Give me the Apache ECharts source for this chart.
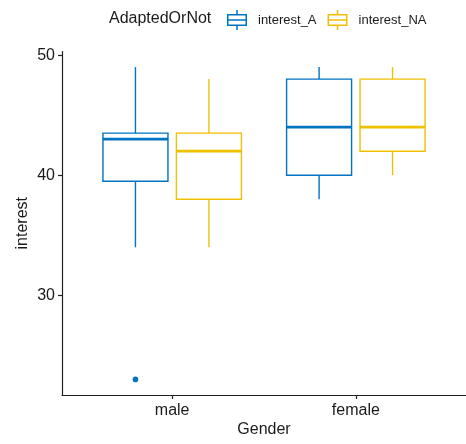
<!DOCTYPE html>
<html>
<head>
<meta charset="utf-8">
<script src="https://cdn.jsdelivr.net/npm/echarts@6/dist/echarts.min.js"></script>
<style>
html, body { margin: 0; padding: 0; background: #fff; }
#main { width: 466px; height: 444px; }
</style>
</head>
<body>
<div id="main"></div>
<script>
var genders = ['male', 'female']
var seriesNames = ['interest_A', 'interest_NA']
// [min, Q1, median, Q3, max] for each gender
var boxA = [[34, 39.5, 43, 43.5, 49], [38, 40, 44, 48, 49]]
var boxNA = [[34, 38, 42, 43.5, 48], [40, 42, 44, 48, 49]]
var outliersA = [['male', 23]]
var yTicks = [30, 40, 50]

var colors = ['#0073C2', '#EFC000']
var font = 'Liberation Sans, Arial, sans-serif'
var boxWidth = 0.354
var dodge = 0.2

var chart = echarts.init(document.getElementById('main'))

function toRows(boxes) {
    return boxes.map(function (b, i) { return [i + 1].concat(b) })
}

function boxRenderer(offset, color) {
    return function (params, api) {
        var x = api.value(0) + offset
        var half = api.size([boxWidth, 0])[0] / 2
        var lo = api.coord([x, api.value(1)]),
            q1 = api.coord([x, api.value(2)]),
            med = api.coord([x, api.value(3)]),
            q3 = api.coord([x, api.value(4)]),
            hi = api.coord([x, api.value(5)])
        return {
            type: 'group',
            children: [
                { type: 'line', shape: { x1: lo[0], y1: lo[1], x2: q1[0], y2: q1[1] }, style: { stroke: color, lineWidth: 1.4 } },
                { type: 'line', shape: { x1: q3[0], y1: q3[1], x2: hi[0], y2: hi[1] }, style: { stroke: color, lineWidth: 1.4 } },
                { type: 'rect', shape: { x: q3[0] - half, y: q3[1], width: half * 2, height: q1[1] - q3[1] }, style: { fill: '#fff', stroke: color, lineWidth: 1.4 } },
                { type: 'line', shape: { x1: med[0] - half, y1: med[1], x2: med[0] + half, y2: med[1] }, style: { stroke: color, lineWidth: 2.8 } }
            ]
        }
    }
}

function pointRenderer(offset, color) {
    return function (params, api) {
        var p = api.coord([api.value(0) + offset, api.value(1)])
        return { type: 'circle', shape: { cx: p[0], cy: p[1], r: 2.8 }, style: { fill: color } }
    }
}

var legendIcon = 'path://M0,4h20v1.5h-20z M0,14.5h20v1.5h-20z M0,4h1.5v12h-1.5z M18.5,4h1.5v12h-1.5z M0,9.25h20v1.5h-20z M9.25,0h1.5v4h-1.5z M9.25,16h1.5v4h-1.5z'

var option = {
    animation: false,
    title: {
        text: 'AdaptedOrNot',
        left: 104,
        top: 6,
        textStyle: { fontFamily: font, fontSize: 16, fontWeight: 'normal', color: '#1a1a1a' }
    },
    legend: {
        left: 222,
        top: 5,
        itemWidth: 20,
        itemHeight: 20,
        itemGap: 11,
        textStyle: { fontFamily: font, fontSize: 13, color: '#1a1a1a', padding: [0, 0, 0, 6] },
        data: seriesNames.map(function (n, i) {
            return { name: n, icon: legendIcon, itemStyle: { color: colors[i] } }
        })
    },
    grid: { left: 62, right: -6, top: 51.5, bottom: 49 },
    xAxis: {
        type: 'value',
        min: 0.4,
        max: 2.6,
        name: 'Gender',
        nameLocation: 'middle',
        nameGap: 27,
        nameMoveOverlap: false,
        nameTextStyle: { fontFamily: font, fontSize: 16, color: '#1a1a1a' },
        splitLine: { show: false },
        axisLine: { show: true, lineStyle: { color: '#222', width: 1.2 } },
        axisTick: { show: true, length: 4, customValues: [1, 2], lineStyle: { color: '#222', width: 1.2 } },
        axisLabel: {
            customValues: [1, 2],
            margin: 8,
            fontFamily: font, fontSize: 16, color: '#1a1a1a',
            formatter: function (v) { return genders[Math.round(v) - 1] }
        }
    },
    yAxis: {
        type: 'value',
        min: 21.7,
        max: 50.3,
        name: 'interest',
        nameLocation: 'middle',
        nameGap: 31,
        nameMoveOverlap: false,
        nameTextStyle: { fontFamily: font, fontSize: 16, color: '#1a1a1a' },
        splitLine: { show: false },
        axisLine: { show: true, lineStyle: { color: '#222', width: 1.2 } },
        axisTick: { show: true, length: 4, customValues: yTicks, lineStyle: { color: '#222', width: 1.2 } },
        axisLabel: { customValues: yTicks, margin: 7, fontFamily: font, fontSize: 16, color: '#1a1a1a' }
    },
    series: [
        {
            name: seriesNames[0],
            type: 'custom',
            itemStyle: { color: colors[0] },
            encode: { x: 0, y: [1, 2, 3, 4, 5] },
            renderItem: boxRenderer(-dodge, colors[0]),
            data: toRows(boxA)
        },
        {
            name: seriesNames[1],
            type: 'custom',
            itemStyle: { color: colors[1] },
            encode: { x: 0, y: [1, 2, 3, 4, 5] },
            renderItem: boxRenderer(dodge, colors[1]),
            data: toRows(boxNA)
        },
        {
            name: seriesNames[0],
            type: 'custom',
            itemStyle: { color: colors[0] },
            encode: { x: 0, y: 1 },
            renderItem: pointRenderer(-dodge, colors[0]),
            data: outliersA.map(function (o) { return [genders.indexOf(o[0]) + 1, o[1]] })
        }
    ]
}

chart.setOption(option)
</script>
</body>
</html>
